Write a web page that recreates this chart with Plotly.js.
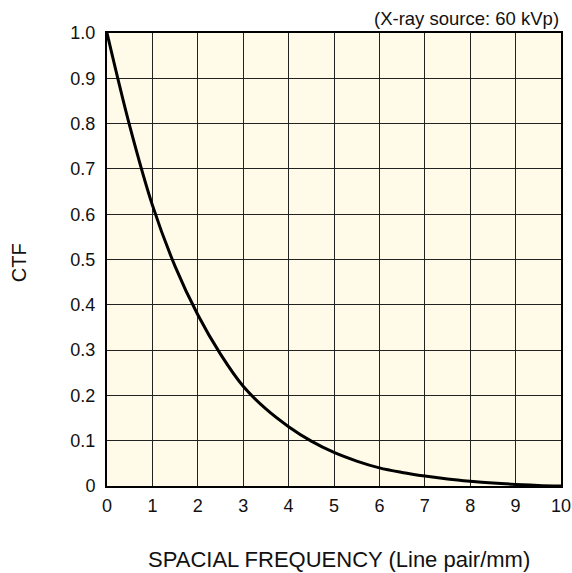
<!DOCTYPE html>
<html>
<head>
<meta charset="utf-8">
<script src="https://cdn.plot.ly/plotly-3.0.1.min.js"></script>
<style>html,body{margin:0;padding:0;background:#fff;}#chart{width:572px;height:573px;}</style>
</head>
<body>
<div id="chart"></div>
<script>
// Data
const freq = [0, 0.5, 1, 1.5, 2, 2.5, 3, 3.5, 4, 4.5, 5, 5.5, 6, 6.5, 7, 7.5, 8, 8.5, 9, 9.5, 10];
const ctf  = [1.0, 0.795, 0.62, 0.485, 0.378, 0.291, 0.22, 0.17, 0.131, 0.099, 0.074, 0.055, 0.040, 0.030, 0.022, 0.0155, 0.0105, 0.0065, 0.0035, 0.0013, 0.0];
const xTicks = [0,1,2,3,4,5,6,7,8,9,10];
const xTickText = ['0','1','2','3','4','5','6','7','8','9','10'];
const yTicks = [0,0.1,0.2,0.3,0.4,0.5,0.6,0.7,0.8,0.9,1.0];
const yTickText = ['0','0.1','0.2','0.3','0.4','0.5','0.6','0.7','0.8','0.9','1.0'];

const font = 'Liberation Sans, Arial, sans-serif';

const trace = {
  x: freq, y: ctf, type: 'scatter', mode: 'lines',
  line: {color: '#000', width: 3, shape: 'spline', smoothing: 1},
  hoverinfo: 'skip'
};

const axisCommon = {
  showline: true, linecolor: '#000', linewidth: 2, mirror: true,
  showgrid: true, gridcolor: '#222', gridwidth: 1,
  zeroline: false, ticks: '', tickmode: 'array',
  tickfont: {family: font, size: 18, color: '#111'},
  fixedrange: true
};

const layout = {
  width: 572, height: 573,
  margin: {l: 107, r: 11, t: 33, b: 87},
  paper_bgcolor: '#ffffff',
  plot_bgcolor: '#fffbe8',
  showlegend: false,
  xaxis: Object.assign({}, axisCommon, {range: [0, 10], tickvals: xTicks, ticktext: xTickText, ticklabelstandoff: 2}),
  yaxis: Object.assign({}, axisCommon, {range: [0, 1], tickvals: yTicks, ticktext: yTickText, ticklabelstandoff: 6}),
  annotations: [
    {text: '(X-ray source: 60 kVp)', xref: 'paper', yref: 'paper', x: 1, y: 1,
     xanchor: 'right', yanchor: 'bottom', yshift: 2, showarrow: false,
     font: {family: font, size: 18.5, color: '#111'}},
    {text: 'CTF', xref: 'paper', yref: 'paper', x: -0.194, y: 0.494,
     xanchor: 'center', yanchor: 'middle', textangle: -90, showarrow: false,
     font: {family: font, size: 20, color: '#111'}},
    {text: 'SPACIAL FREQUENCY (Line pair/mm)', xref: 'paper', yref: 'paper', x: 0.511, y: -0.163,
     xanchor: 'center', yanchor: 'middle', showarrow: false,
     font: {family: font, size: 22, color: '#111'}}
  ]
};

Plotly.newPlot('chart', [trace], layout, {displayModeBar: false, staticPlot: true});
</script>
</body>
</html>
